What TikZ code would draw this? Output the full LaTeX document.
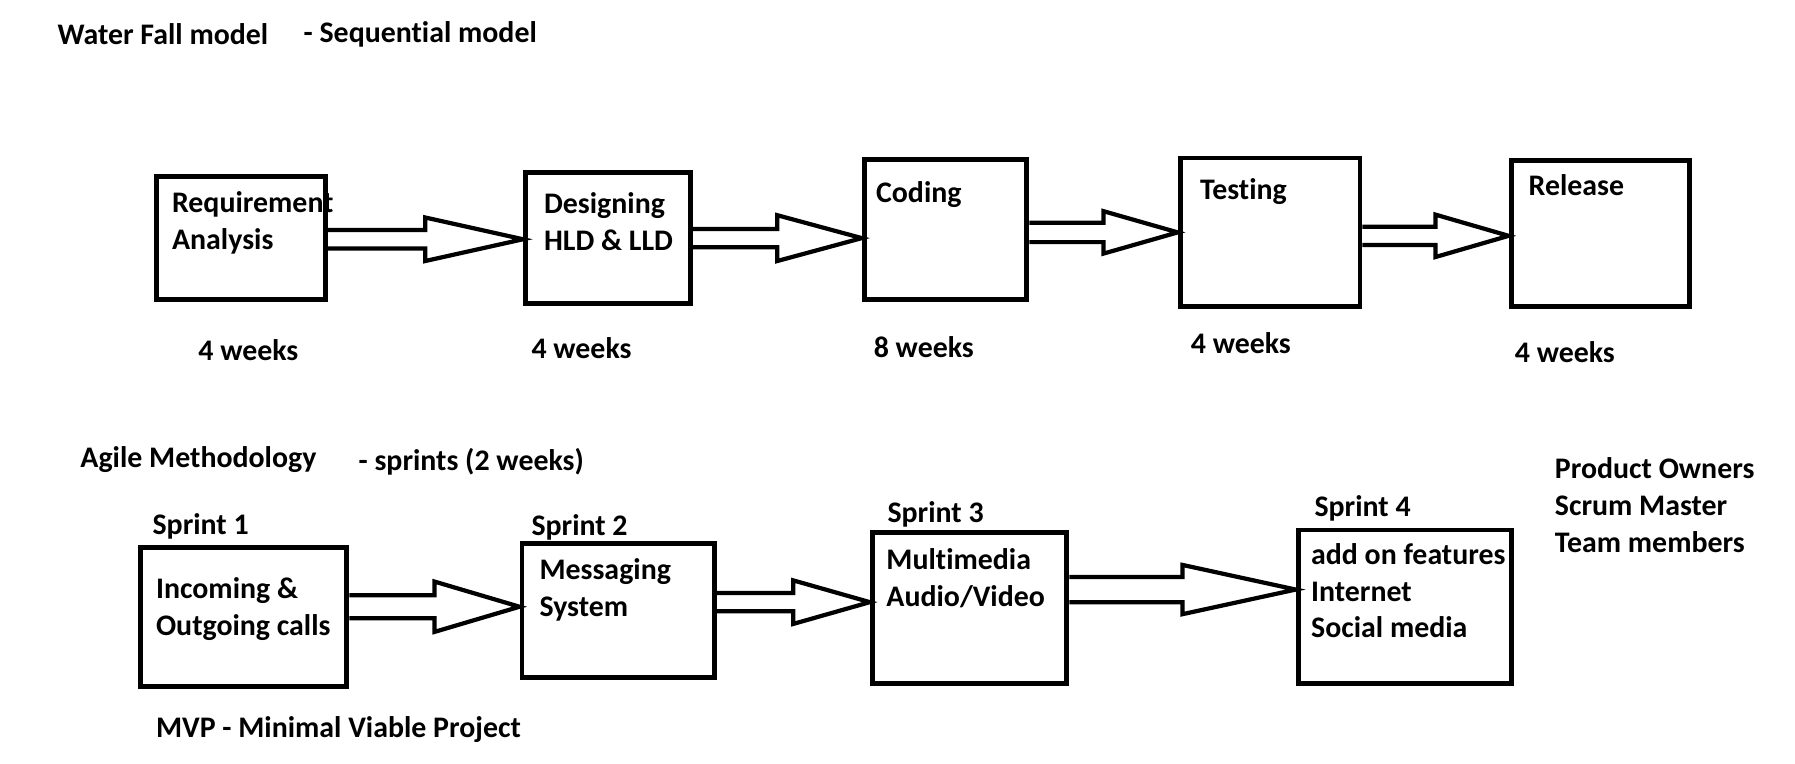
\documentclass[tikz,border=0pt]{standalone}
\usepackage{fontspec}
\setmainfont{Carlito}[Ligatures={NoCommon,NoContextual}]
\usetikzlibrary{fit,calc}

\tikzset{
  box/.style={draw,line width=2.8pt,inner sep=0pt},
  lbl/.style={font=\bfseries\fontsize{17}{21}\selectfont,inner sep=0pt,anchor=west,align=left},
  hollow/.style={draw,line width=2.4pt,line join=miter}
}

\newcommand{\hollowarrow}[5]{%
  \path (#1.east |- 0,#3) coordinate (tl) (#2.west |- 0,#3) coordinate (tp);
  \path ($(tl)!0.5!(tp)$) coordinate (md);
  \draw[hollow] ($(tl)+(0,#4)$) -- ($(md)+(0,#4)$) -- ($(md)+(0,#5)$) -- (tp)
    -- ($(md)-(0,#5)$) -- ($(md)-(0,#4)$) -- ($(tl)-(0,#4)$);
}

\begin{document}
\begin{tikzpicture}[x=0.022896cm,y=-0.022896cm]
\useasboundingbox (0,0) rectangle (1568,667);

\node[lbl] (wftitle) at (50,30) {Water Fall model};
\node[lbl] (wfsub) at (265,30) {- Sequen{}tial model};

\node[box,fit={(137,154) (284,262)}] (req) {};
\node[box,fit={(459,151) (603,265)}] (des) {};
\node[box,fit={(755,139) (897,262)}] (cod) {};
\node[box,fit={(1031,138) (1188,268)}] (tst) {};
\node[box,fit={(1320,140) (1476,268)}] (rel) {};

\node[lbl] (reqtxt) at (150,194.5) {Requirement\\Analysis};
\node[lbl] (destxt) at (475,193.5) {Designing\\HLD \& LLD};
\node[lbl] (codtxt) at (765,170) {Coding};
\node[lbl] (tsttxt) at (1048,167) {Testing};
\node[lbl] (reltxt) at (1335,162) {Release};

\node[lbl] (reqwk) at (173,306) {4 weeks};
\node[lbl] (deswk) at (464,304) {4 weeks};
\node[lbl] (codwk) at (763,303) {8 weeks};
\node[lbl] (tstwk) at (1040,300) {4 weeks};
\node[lbl] (relwk) at (1323,308) {4 weeks};

\hollowarrow{req}{des}{209}{8}{19}
\hollowarrow{des}{cod}{208}{8}{20}
\hollowarrow{cod}{tst}{203}{8.5}{18.5}
\hollowarrow{tst}{rel}{206}{8}{18.5}

\node[lbl] (agtitle) at (70,401) {Agile Methodology};
\node[lbl] (agsub) at (313,403) {- sprints (2 weeks)};

\node[lbl] (sp1) at (133,460) {Sprint 1};
\node[lbl] (sp2) at (464,461) {Sprint 2};
\node[lbl] (sp3) at (775,449) {Sprint 3};
\node[lbl] (sp4) at (1148,444) {Sprint 4};

\node[box,fit={(123,478) (303,600)}] (calls) {};
\node[box,fit={(456,475) (624,592)}] (msg) {};
\node[box,fit={(762,465) (932,597)}] (media) {};
\node[box,fit={(1134,463) (1320,597)}] (addon) {};

\node[lbl] (callstxt) at (136,532) {Incoming \&\\Outgoing calls};
\node[lbl] (msgtxt) at (471,515) {Messaging\\System};
\node[lbl] (mediatxt) at (774,505) {Multimedia\\Audio/Video};
\node[lbl] (addontxt) at (1145,516) {add on features\\Internet\\Social media};

\hollowarrow{calls}{msg}{530}{10}{22}
\hollowarrow{msg}{media}{526}{8}{19}
\hollowarrow{media}{addon}{515}{11}{21.5}

\node[lbl] (roles) at (1358,441) {Product Owners\\Scrum Master\\Team members};
\node[lbl] (mvp) at (136,637) {MVP - Minimal Viable Project};
\end{tikzpicture}
\end{document}
